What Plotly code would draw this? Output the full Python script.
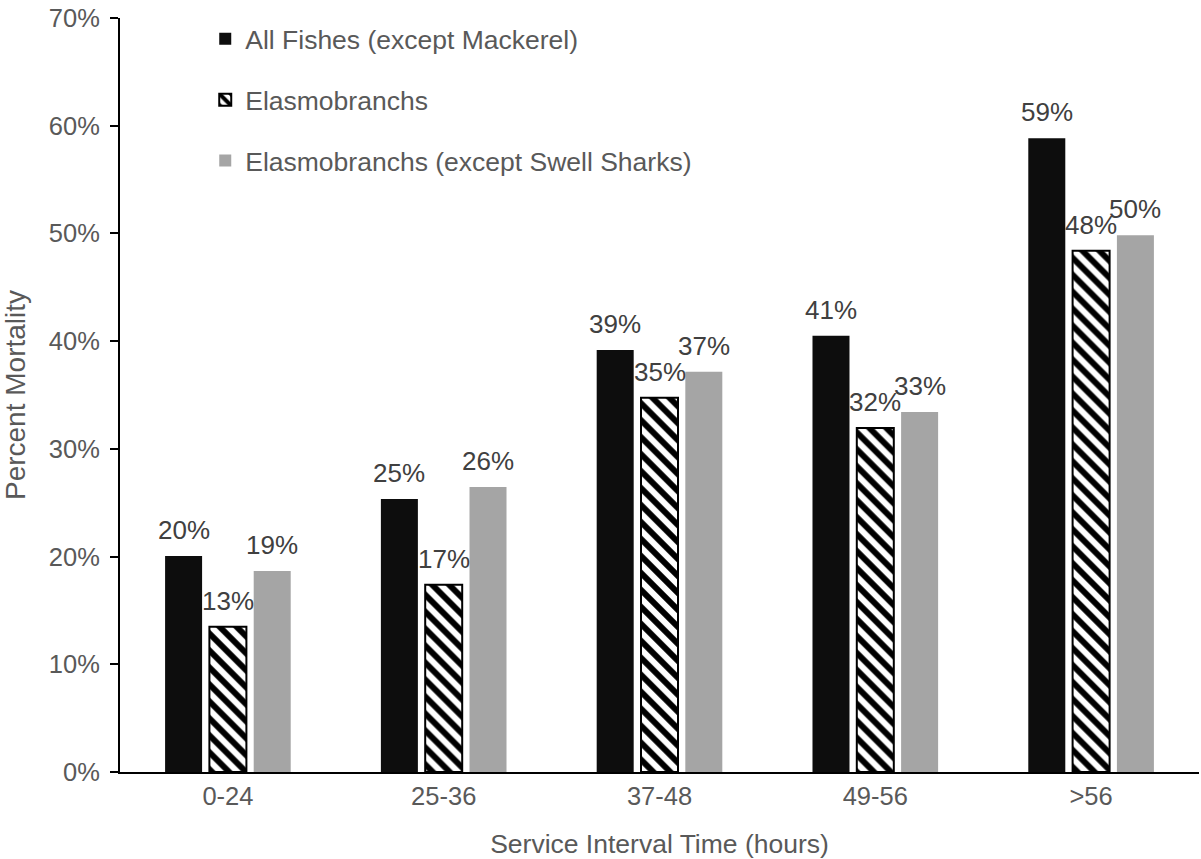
import plotly.graph_objects as go

# Service interval bins and mortality fractions for each group
intervals = ["0-24", "25-36", "37-48", "49-56", ">56"]
all_fishes = [0.2005, 0.2535, 0.3918, 0.4051, 0.5884]
elasmobranchs = [0.1349, 0.1739, 0.3475, 0.3194, 0.4840]
elasmo_no_swell = [0.1866, 0.2645, 0.3717, 0.3343, 0.4983]

series_names = [
    "All Fishes (except Mackerel)",
    "Elasmobranchs",
    "Elasmobranchs (except Swell Sharks)",
]

FONT = "Liberation Sans, Arial, sans-serif"
TEXT_GREY = "#595959"
BARGAP = 0.384
GROUPGAP = 0.165

fig = go.Figure()

fig.add_trace(go.Bar(
    x=intervals, y=all_fishes, name=series_names[0],
    marker=dict(color="#0d0d0d", line=dict(width=0)),
    legendgroup="a",
))
fig.add_trace(go.Bar(
    x=intervals, y=elasmobranchs, name=series_names[1],
    marker=dict(
        color="white",
        line=dict(color="black", width=2),
        pattern=dict(shape="\\", fgcolor="black", fgopacity=1,
                     size=12, solidity=0.5, fillmode="overlay"),
    ),
    legendgroup="b",
))
fig.add_trace(go.Bar(
    x=intervals, y=elasmo_no_swell, name=series_names[2],
    marker=dict(color="#a5a5a5", line=dict(width=0)),
    legendgroup="c",
))

# value labels centred over each bar
slot = (1 - BARGAP) / 3
for j, series in enumerate([all_fishes, elasmobranchs, elasmo_no_swell]):
    for i, v in enumerate(series):
        fig.add_annotation(
            x=i + (j - 1) * slot, y=v, xref="x", yref="y",
            text=f"{v:.0%}", showarrow=False,
            yanchor="bottom", xanchor="center", yshift=9,
            font=dict(family=FONT, size=26, color="#404040"),
        )

fig.update_layout(
    width=1201, height=859,
    margin=dict(l=120, r=2, t=18, b=87),
    paper_bgcolor="white", plot_bgcolor="white",
    barmode="group", bargap=BARGAP, bargroupgap=GROUPGAP,
    font=dict(family=FONT, size=25.5, color=TEXT_GREY),
    showlegend=True,
    legend=dict(
        x=0.079, y=1.004, xanchor="left", yanchor="top",
        traceorder="grouped", tracegroupgap=23.5,
        font=dict(family=FONT, size=26.5, color=TEXT_GREY),
        bgcolor="rgba(0,0,0,0)",
    ),
    xaxis=dict(
        type="category",
        showline=True, linecolor="black", linewidth=2,
        ticks="", showgrid=False,
        tickfont=dict(family=FONT, size=25.5, color=TEXT_GREY),
        title=dict(text="Service Interval Time (hours)",
                   font=dict(family=FONT, size=26.5, color=TEXT_GREY),
                   standoff=26),
    ),
    yaxis=dict(
        range=[0, 0.7], dtick=0.1, tickformat=".0%",
        showline=True, linecolor="black", linewidth=2,
        ticks="outside", ticklen=8, tickwidth=2, tickcolor="black",
        ticklabelstandoff=5,
        showgrid=False, zeroline=False,
        tickfont=dict(family=FONT, size=25.5, color=TEXT_GREY),
        title=dict(text="Percent Mortality",
                   font=dict(family=FONT, size=28, color=TEXT_GREY),
                   standoff=18),
    ),
)

fig.write_html("out.html")
